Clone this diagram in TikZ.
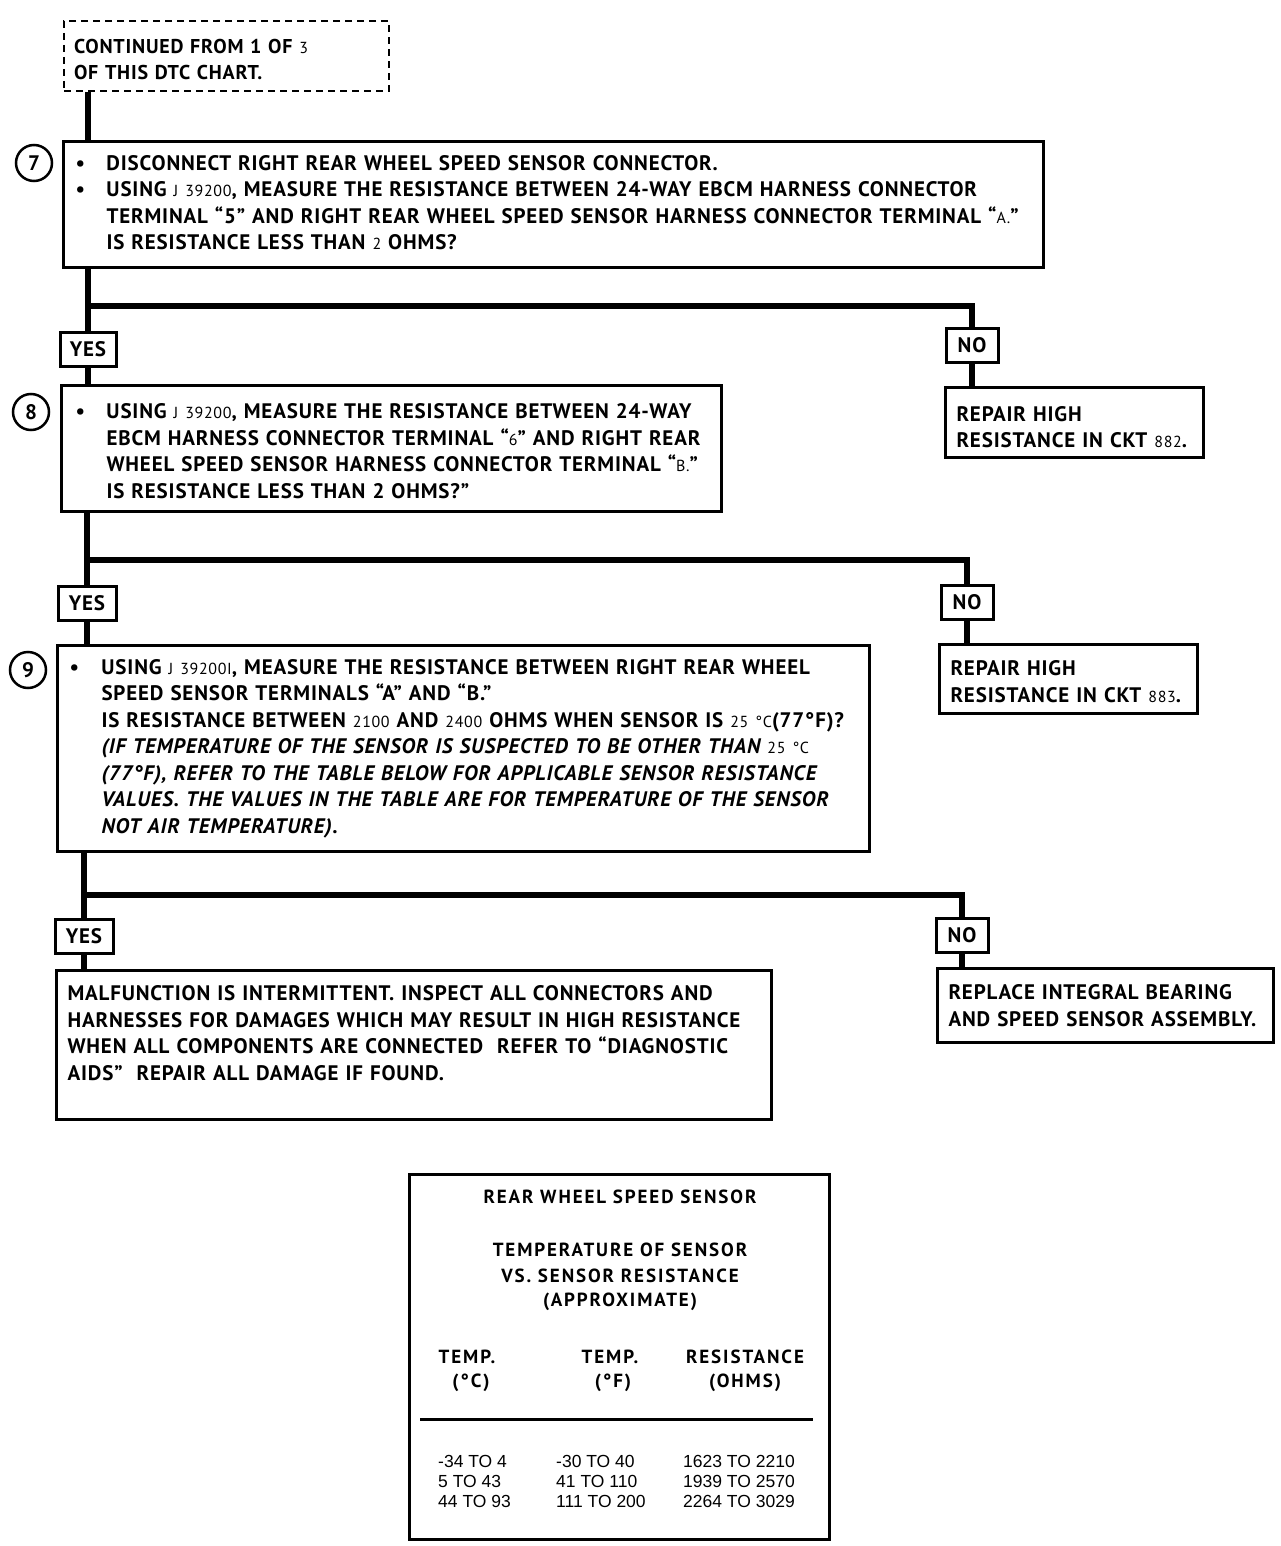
\documentclass[tikz,border=0pt]{standalone}
\usepackage{fontspec}
\setmainfont{PT Sans}[LetterSpace=4]
\newfontfamily\dataf{Liberation Sans}
\usetikzlibrary{calc}
\newcommand\smn[1]{{\fontsize{16}{26.5}\selectfont\mdseries\upshape #1}}
\newcommand\bx{\fontsize{21}{26.5}\selectfont\bfseries}
\newcommand\hdf{\fontsize{19}{22}\selectfont\bfseries\addfontfeature{LetterSpace=10}}
\begin{document}
\begin{tikzpicture}[x=1pt,y=-1pt,
 flow/.style={line width=6pt, line join=miter},
 boxst/.style={draw, line width=3pt, rectangle, anchor=north west, align=left, inner ysep=0pt, font=\bx},
 yn/.style={draw, line width=3pt, font=\bx, minimum height=34pt, inner sep=0pt},
 num/.style={draw, circle, line width=2.5pt, minimum size=36pt, inner sep=0pt, font=\bx},
 hd/.style={font=\hdf, inner sep=0pt},
 dat/.style={font=\dataf\fontsize{17.5}{20}\selectfont, anchor=west, inner sep=0pt}]
\useasboundingbox (0,0) rectangle (1280,1546);

% start box
\node[boxst, dashed, line width=2pt, dash pattern=on 7pt off 5pt, text width=305pt, inner xsep=10pt, minimum height=70pt, font=\fontsize{20}{26}\selectfont\bfseries] (cont) at (63,20)
  {\rule{0pt}{22pt}CONTINUED FROM 1 OF \smn{3}\\OF THIS DTC CHART.};

% step 7
\node[boxst, text width=956pt, inner xsep=12pt, minimum height=126pt] (b7) at (62,140)
{\begin{tabular}{@{}p{31pt}@{}l@{}}
\textbullet & DISCONNECT RIGHT REAR WHEEL SPEED SENSOR CONNECTOR.\\
\textbullet & USING \smn{J 39200}, MEASURE THE RESISTANCE BETWEEN 24-WAY EBCM HARNESS CONNECTOR\\
 & TERMINAL “5” AND RIGHT REAR WHEEL SPEED SENSOR HARNESS CONNECTOR TERMINAL “\smn{A.}”\\
 & IS RESISTANCE LESS THAN \smn{2} OHMS?
\end{tabular}};
\node[num] (n7) at (34,163) {7};

\coordinate (j1) at (88,306);
\node[yn, minimum width=56pt] (yes1) at (88,349) {YES};
\node[yn, minimum width=52pt] (no1) at (972,345) {NO};
\node[boxst, text width=236pt, inner xsep=11pt, minimum height=70pt] (rep1) at (944,386)
  {\rule{0pt}{24pt}REPAIR HIGH\\RESISTANCE IN CKT \smn{882}.};

% step 8
\node[boxst, text width=632pt, inner xsep=14pt, minimum height=126pt] (b8) at (60,384)
{\begin{tabular}{@{}p{31pt}@{}l@{}}
\textbullet\rule{0pt}{28pt} & USING \smn{J 39200}, MEASURE THE RESISTANCE BETWEEN 24-WAY\\
 & EBCM HARNESS CONNECTOR TERMINAL “\smn{6}” AND RIGHT REAR\\
 & WHEEL SPEED SENSOR HARNESS CONNECTOR TERMINAL “\smn{B.}”\\
 & IS RESISTANCE LESS THAN 2 OHMS?”
\end{tabular}};
\node[num] (n8) at (31,412) {8};

\coordinate (j2) at (87,560);
\node[yn, minimum width=58pt] (yes2) at (87,603) {YES};
\node[yn, minimum width=52pt] (no2) at (967,602) {NO};
\node[boxst, text width=236pt, inner xsep=11pt, minimum height=69pt] (rep2) at (938,643)
  {\rule{0pt}{20pt}REPAIR HIGH\\RESISTANCE IN CKT \smn{883}.};

% step 9
\node[boxst, text width=788pt, inner xsep=12pt, minimum height=206pt] (b9) at (56,644)
{\begin{tabular}{@{}p{32pt}@{}l@{}}
\textbullet & USING \smn{J 39200I}, MEASURE THE RESISTANCE BETWEEN RIGHT REAR WHEEL\\
 & SPEED SENSOR TERMINALS “A” AND “B.”\\
 & IS RESISTANCE BETWEEN \smn{2100} AND \smn{2400} OHMS WHEN SENSOR IS \smn{25 °C}(77°F)?\\
 & \itshape (IF TEMPERATURE OF THE SENSOR IS SUSPECTED TO BE OTHER THAN \smn{25 °C}\\
 & \itshape (77°F), REFER TO THE TABLE BELOW FOR APPLICABLE SENSOR RESISTANCE\\
 & \itshape VALUES. THE VALUES IN THE TABLE ARE FOR TEMPERATURE OF THE SENSOR\\
 & \itshape NOT AIR TEMPERATURE).
\end{tabular}};
\node[num] (n9) at (28,670) {9};

\coordinate (j3) at (84,895);
\node[yn, minimum width=58pt] (yes3) at (84,936) {YES};
\node[yn, minimum width=52pt] (no3) at (962,935) {NO};
\node[boxst, text width=693pt, inner xsep=11pt, minimum height=149pt] (mal) at (55,969)
  {MALFUNCTION IS INTERMITTENT. INSPECT ALL CONNECTORS AND\\
   HARNESSES FOR DAMAGES WHICH MAY RESULT IN HIGH RESISTANCE\\
   WHEN ALL COMPONENTS ARE CONNECTED \ REFER TO “DIAGNOSTIC\\
   AIDS” \ REPAIR ALL DAMAGE IF FOUND.\rule[-24pt]{0pt}{1pt}};
\node[boxst, text width=314pt, inner xsep=11pt, minimum height=74pt] (rpl) at (936,967)
  {REPLACE INTEGRAL BEARING\\AND SPEED SENSOR ASSEMBLY.};

% connectors
\draw[flow] (cont.south -| j1) -- (b7.north -| j1);
\draw[flow] (b7.south -| j1) -- (j1) -| (no1.north);
\draw[flow] (j1) -- (yes1.north);
\draw[flow] (yes1.south) -- (b8.north -| yes1);
\draw[flow] (no1.south) -- (rep1.north -| no1);

\draw[flow] (b8.south -| j2) -- (j2) -| (no2.north);
\draw[flow] (j2) -- (yes2.north);
\draw[flow] (yes2.south) -- (b9.north -| yes2);
\draw[flow] (no2.south) -- (rep2.north -| no2);

\draw[flow] (b9.south -| j3) -- (j3) -| (no3.north);
\draw[flow] (j3) -- (yes3.north);
\draw[flow] (yes3.south) -- (mal.north -| yes3);
\draw[flow] (no3.south) -- (rpl.north -| no3);

% table
\node[draw, line width=3pt, anchor=north west, minimum width=420pt, minimum height=365pt, inner sep=0pt] (tab) at (408,1173) {};
\node[hd] (t1) at (620,1197) {REAR WHEEL SPEED SENSOR};
\node[hd] (t2) at (620,1250) {TEMPERATURE OF SENSOR};
\node[hd] (t3) at (620,1276) {VS. SENSOR RESISTANCE};
\node[hd] (t4) at (620,1302) {(APPROXIMATE)};
\node[hd] (h1) at (467,1357) {TEMP.};
\node[hd] (h1b) at (471,1383) {(°C)};
\node[hd] (h2) at (610,1357) {TEMP.};
\node[hd] (h2b) at (613,1383) {(°F)};
\node[hd] (h3) at (745,1357) {RESISTANCE};
\node[hd] (h3b) at (745,1383) {(OHMS)};
\draw[line width=3pt] ($(tab.north west)+(12,246)$) -- ($(tab.north east)+(-18,246)$);
\node[dat] (d11) at (438,1461) {-34 TO 4};
\node[dat] (d21) at (438,1481) {5 TO 43};
\node[dat] (d31) at (438,1501) {44 TO 93};
\node[dat] (d12) at (556,1461) {-30 TO 40};
\node[dat] (d22) at (556,1481) {41 TO 110};
\node[dat] (d32) at (556,1501) {111 TO 200};
\node[dat] (d13) at (683,1461) {1623 TO 2210};
\node[dat] (d23) at (683,1481) {1939 TO 2570};
\node[dat] (d33) at (683,1501) {2264 TO 3029};
\end{tikzpicture}
\end{document}
